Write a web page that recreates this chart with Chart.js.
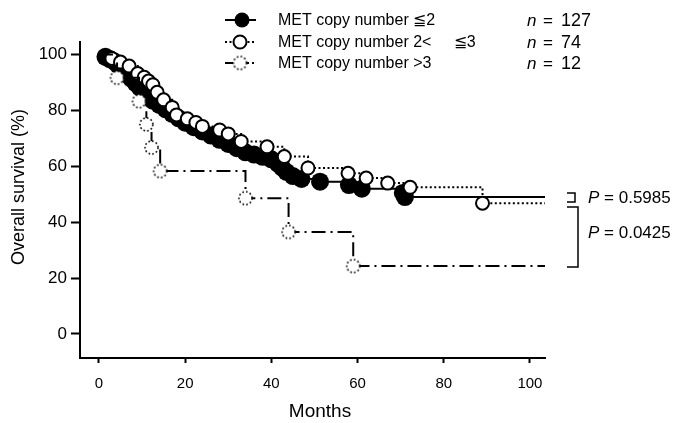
<!DOCTYPE html>
<html>
<head>
<meta charset="utf-8">
<script src="https://cdn.jsdelivr.net/npm/chart.js@4"></script>
<style>
  html, body { margin: 0; padding: 0; background: #fff; }
  #wrap { width: 679px; height: 423px; }
</style>
</head>
<body>
<div id="wrap"><canvas id="km"></canvas></div>
<script>
// overall survival (%) at each event.
// first point = start of follow-up, last point = end of the line
const lowMonths = [0, 1.5, 2.5, 3.5, 4.5, 5.5, 6.5, 7.5, 8.5, 9.5, 10.5, 11.5, 12.5, 14, 15.5, 17, 18.5, 20, 22, 24, 26, 28, 30, 32, 34, 36, 38, 40, 41.5, 42.5, 43.5, 45, 47, 51.3, 58, 61, 70.5, 71, 103.5];
const lowSurv = [100, 99.2, 98.4, 97.6, 96.1, 94.5, 93, 91.4, 89.8, 88.2, 86.6, 85, 83.5, 82, 80.4, 78.8, 77.2, 75.6, 74, 72.5, 71, 69.5, 68, 66.5, 65, 64.2, 63.4, 62.5, 61, 59.5, 58, 56.5, 55.5, 54.5, 53.3, 52, 50.5, 49, 49];

const midMonths = [0, 3, 5, 7, 9, 10.5, 11.5, 12.5, 13.5, 15, 17, 18, 20.5, 22.5, 24, 28, 30, 33, 39, 43, 48.5, 57.8, 62, 67, 72.2, 89, 103.5];
const midSurv = [100, 98.6, 97.3, 95.9, 93.2, 91.9, 90.5, 89.2, 86.5, 83.8, 81.1, 78.4, 77, 75.7, 74.3, 73, 71.6, 68.9, 67, 63.5, 59.4, 57.5, 55.8, 54, 52.5, 46.8, 46.8];

const highMonths = [0, 4.2, 9.3, 11, 12.2, 14.2, 34, 44, 59, 103.5];
const highSurv = [100, 91.7, 83.3, 75, 66.7, 58.3, 48.6, 36.5, 24.3, 24.3];

const xTicks = [0, 20, 40, 60, 80, 100];
const yTicks = [0, 20, 40, 60, 80, 100];

const groupLabels = ["MET copy number \u22662", "MET copy number 2<     \u22663", "MET copy number >3"];
const groupN = ["127", "74", "12"];
const pValues = ["0.5985", "0.0425"];

const FONT = '"Liberation Sans", Arial, sans-serif';

function dottedCircle(r) {
  const c = document.createElement("canvas");
  const s = Math.ceil(r * 2 + 4);
  c.width = s;
  c.height = s;
  const g = c.getContext("2d");
  g.beginPath();
  g.arc(s / 2, s / 2, r, 0, Math.PI * 2);
  g.fillStyle = "#fff";
  g.fill();
  g.setLineDash([1.6, 2.2]);
  g.lineWidth = 1.6;
  g.strokeStyle = "#000";
  g.stroke();
  return c;
}
const dotMark = dottedCircle(6.5);

function pts(m, s) {
  return m.map((v, i) => ({ x: v, y: s[i] }));
}
// no marker on the start and end points
function markAt(size) {
  return ctx => (ctx.dataIndex === 0 || ctx.dataIndex === ctx.dataset.data.length - 1) ? 0 : size;
}

const annot = {
  id: "annot",
  afterDraw(chart) {
    const c = chart.ctx;
    c.save();
    c.fillStyle = "#000";
    c.strokeStyle = "#000";

    // axis titles
    c.textAlign = "center";
    c.textBaseline = "middle";
    c.font = `18px ${FONT}`;
    c.save();
    c.translate(19, 187);
    c.rotate(-Math.PI / 2);
    c.fillText("Overall survival (%)", 0, 0);
    c.restore();
    c.font = `19px ${FONT}`;
    c.fillText("Months", 320, 412);

    // legend
    const rows = [20, 42, 63];
    const dashes = [[], [2, 2.5], [8, 3, 2, 3]];
    rows.forEach((y, i) => {
      c.lineWidth = 2;
      c.setLineDash(dashes[i]);
      c.beginPath();
      c.moveTo(225, y);
      c.lineTo(256, y);
      c.stroke();
      c.setLineDash([]);
      if (i === 0) {
        c.beginPath();
        c.arc(242, y, 7.5, 0, Math.PI * 2);
        c.fill();
      } else if (i === 1) {
        c.beginPath();
        c.arc(240, y, 6.5, 0, Math.PI * 2);
        c.fillStyle = "#fff";
        c.fill();
        c.fillStyle = "#000";
        c.stroke();
      } else {
        c.drawImage(dotMark, 240 - dotMark.width / 2, y - dotMark.height / 2);
      }
      c.textAlign = "left";
      c.font = `16px ${FONT}`;
      c.fillText(groupLabels[i], 278, y + 1);
      c.font = `italic 17px ${FONT}`;
      c.fillText("n", 527, y + 1);
      c.font = `17px ${FONT}`;
      c.fillText("=", 543, y + 1);
      c.font = `18px ${FONT}`;
      c.fillText(groupN[i], 561, y + 1);
    });

    // brackets
    c.lineWidth = 1.5;
    c.beginPath();
    c.moveTo(567, 193); c.lineTo(575, 193); c.lineTo(575, 202); c.lineTo(567, 202);
    c.moveTo(567, 207); c.lineTo(578, 207); c.lineTo(578, 267); c.lineTo(567, 267);
    c.stroke();

    // P values
    [198, 233].forEach((y, i) => {
      c.font = `italic 17px ${FONT}`;
      c.fillText("P", 588, y);
      const w = c.measureText("P").width;
      c.font = `17px ${FONT}`;
      c.fillText(" = " + pValues[i], 588 + w, y);
    });
    c.restore();
  }
};

new Chart(document.getElementById("km"), {
  type: "line",
  data: {
    datasets: [
      {
        data: pts(lowMonths, lowSurv),
        borderColor: "#000",
        borderWidth: 2,
        stepped: true,
        pointRadius: markAt(9),
        pointBackgroundColor: "#000",
        pointBorderColor: "#000",
        pointBorderWidth: 0,
        order: 3
      },
      {
        data: pts(midMonths, midSurv),
        borderColor: "#000",
        borderWidth: 2,
        borderDash: [2, 2.5],
        stepped: true,
        pointRadius: markAt(6.5),
        pointBackgroundColor: "#fff",
        pointBorderColor: "#000",
        pointBorderWidth: 2,
        order: 2
      },
      {
        data: pts(highMonths, highSurv),
        borderColor: "#000",
        borderWidth: 2,
        borderDash: [14, 5, 2, 5],
        stepped: true,
        pointStyle: dotMark,
        pointRadius: markAt(6.5),
        order: 1
      }
    ]
  },
  options: {
    responsive: true,
    maintainAspectRatio: false,
    animation: false,
    events: [],
    layout: { padding: { top: 42, right: 134, left: 0, bottom: 0 } },
    plugins: { legend: { display: false }, tooltip: { enabled: false } },
    scales: {
      x: {
        type: "linear",
        min: -4.4,
        max: 103.5,
        afterBuildTicks: s => { s.ticks = xTicks.map(v => ({ value: v })); },
        afterFit: s => { s.height = 65; },
        border: { display: true, color: "#000", width: 2 },
        grid: { drawOnChartArea: false, drawTicks: true, tickLength: 5, tickColor: "#000", tickWidth: 2 },
        ticks: { color: "#000", font: { family: FONT, size: 15 }, padding: 12, maxRotation: 0 }
      },
      y: {
        type: "linear",
        min: -8.6,
        max: 104.5,
        afterBuildTicks: s => { s.ticks = yTicks.map(v => ({ value: v })); },
        afterFit: s => { s.width = 80; },
        border: { display: true, color: "#000", width: 2 },
        grid: { drawOnChartArea: false, drawTicks: true, tickLength: 9, tickColor: "#000", tickWidth: 2 },
        ticks: { color: "#000", font: { family: FONT, size: 17 }, padding: 4 }
      }
    }
  },
  plugins: [annot]
});
</script>
</body>
</html>
